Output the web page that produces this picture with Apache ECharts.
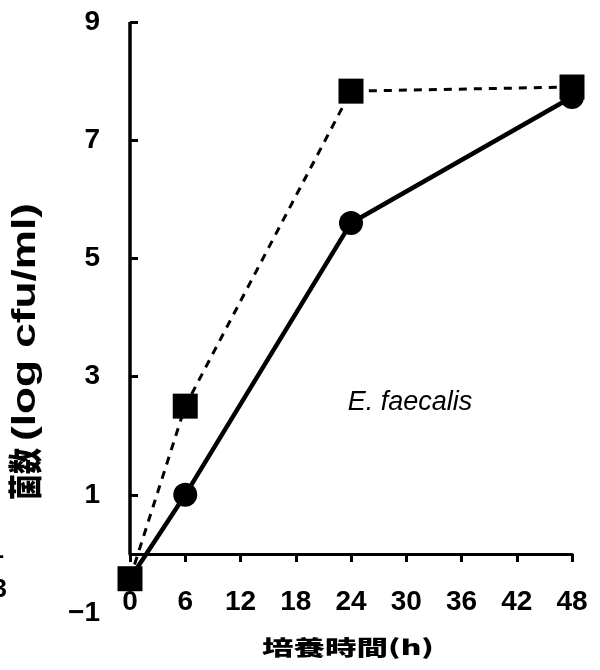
<!DOCTYPE html>
<html>
<head>
<meta charset="utf-8">
<script src="https://cdn.jsdelivr.net/npm/echarts@6/dist/echarts.min.js"></script>
<style>
  html, body { margin: 0; padding: 0; background: #fff; }
  #chart { width: 600px; height: 670px; }
</style>
</head>
<body>
<div id="chart"></div>
<script>
// Culture time (h) and viable counts (log cfu/ml)
const hours = [0, 6, 24, 48];
const countSquare = [-0.42, 2.5, 7.83, 7.9];   // dashed line, square markers
const countCircle = [-0.42, 1.0, 5.6, 7.73];   // solid line, circle markers
const xTicks = [0, 6, 12, 18, 24, 30, 36, 42, 48];
const yTicks = [-1, 1, 3, 5, 7, 9];
const organism = 'E. faecalis';

const pairs = (xs, ys) => xs.map((x, i) => [x, ys[i]]);
const FONT = '"Liberation Sans", Arial, sans-serif';
const CJK = '"Noto Sans CJK JP", sans-serif';

const chart = echarts.init(document.getElementById('chart'), null, { renderer: 'canvas' });

chart.setOption({
  animation: false,
  backgroundColor: '#fff',
  grid: { left: 130, right: 28, top: 22, bottom: 57 },
  xAxis: {
    type: 'value',
    min: xTicks[0], max: xTicks[xTicks.length - 1], interval: 6,
    axisLine: { show: true, onZero: true, lineStyle: { color: '#000', width: 3 } },
    axisTick: { show: true, inside: false, length: 8, lineStyle: { color: '#000', width: 3 } },
    axisLabel: { margin: -25, color: '#000', fontSize: 28, fontWeight: 'bold', fontFamily: FONT },
    splitLine: { show: false }
  },
  yAxis: {
    type: 'value',
    min: yTicks[0], max: yTicks[yTicks.length - 1], interval: 2,
    axisLine: { show: false },
    axisTick: { show: true, inside: true, length: 8, customValues: yTicks.slice(1),
                lineStyle: { color: '#000', width: 3 } },
    axisLabel: { margin: 30, color: '#000', fontSize: 28, fontWeight: 'bold', fontFamily: FONT,
                 formatter: v => String(v).replace('-', '\u2212') },
    splitLine: { show: false }
  },
  series: [
    {
      type: 'line',
      data: pairs(hours, countCircle),
      symbol: 'circle', symbolSize: 24,
      itemStyle: { color: '#000' },
      lineStyle: { color: '#000', width: 4.5 },
      z: 3,
      markLine: {
        silent: true, symbol: 'none', label: { show: false },
        lineStyle: { color: '#000', width: 3.5, type: 'solid' },
        data: [[{ coord: [0, 0] }, { coord: [0, yTicks[yTicks.length - 1]] }]]
      }
    },
    {
      type: 'line',
      data: pairs(hours, countSquare),
      symbol: 'rect', symbolSize: 25,
      itemStyle: { color: '#000' },
      lineStyle: { color: '#000', width: 3, type: [8, 7] },
      z: 4
    }
  ],
  graphic: [
    {
      type: 'text', x: 410, y: 402,
      style: { text: organism, fill: '#000', fontSize: 27, fontStyle: 'italic',
               fontFamily: FONT, align: 'center', verticalAlign: 'middle' }
    },
    {
      type: 'text', x: 348, y: 647, scaleX: 1.5,
      style: { text: '培養時間(h)', fill: '#000', fontSize: 21, fontWeight: 900,
               fontFamily: CJK, align: 'center', verticalAlign: 'middle' }
    },
    {
      type: 'text', x: 25, y: 474, rotation: Math.PI / 2, scaleY: 1.3,
      style: { text: '菌数', fill: '#000', fontSize: 26, fontWeight: 900,
               fontFamily: CJK, align: 'center', verticalAlign: 'middle' }
    },
    {
      type: 'text', x: 26, y: 322, rotation: Math.PI / 2, scaleX: 1.3,
      style: { text: '(log cfu/ml)', fill: '#000', fontSize: 34, fontWeight: 'bold',
               fontFamily: FONT, align: 'center', verticalAlign: 'middle' }
    },
    {
      type: 'text', x: 4, y: 551,
      style: { text: '1', fill: '#000', fontSize: 26, fontWeight: 'bold', fontFamily: FONT,
               align: 'right', verticalAlign: 'middle' }
    },
    {
      type: 'text', x: 7, y: 590,
      style: { text: '3', fill: '#000', fontSize: 26, fontWeight: 'bold', fontFamily: FONT,
               align: 'right', verticalAlign: 'middle' }
    }
  ]
});
</script>
</body>
</html>
